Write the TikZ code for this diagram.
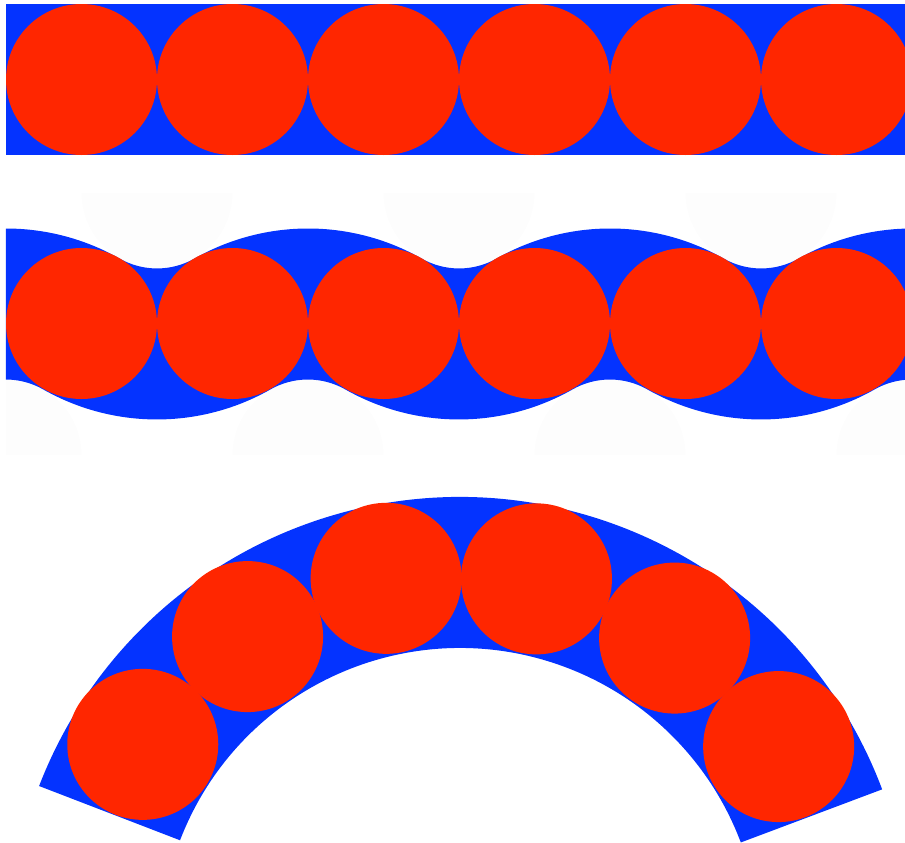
\documentclass[tikz,border=0pt]{standalone}
\usepackage{tikz}
\definecolor{bandblue}{RGB}{4,51,255}
\definecolor{ballred}{RGB}{255,38,0}
\definecolor{ghost}{RGB}{253,253,253}

\begin{document}
\begin{tikzpicture}[x=0.02cm, y=-0.02cm,
      band/.style={fill=bandblue},
      ball/.style={fill=ballred},
      cut/.style={fill=ghost}]
      \useasboundingbox (0,0) rectangle (905,842);
      % straight strip
      \fill[band] (6,4) rectangle (912,155);
      \foreach \i in {0,...,5} \fill[ball] (81.5+151*\i,79.5) circle (75.5);
      % wavy strip
      \begin{scope}
        \clip (6,193) rectangle (912,455);
        \foreach \i in {0,1,2} \fill[cut] (81.5+302*\i,193) arc[start angle=180, end angle=0, radius=75.5] -- cycle;
        \foreach \i in {0,...,3} \fill[cut] (-69.5+302*\i,455) arc[start angle=180, end angle=360, radius=75.5] -- cycle;
      \end{scope}
      \fill[band] (6,228.5)
        \foreach \k in {1,2,3} {
          arc[start angle=-90, end angle=-60.37, radius=230]
          arc[start angle=119.63, end angle=60.37, radius=75.5]
          arc[start angle=-119.63, end angle=-90, radius=230]}
        -- (912,379.5)
        \foreach \k in {1,2,3} {
          arc[start angle=-90, end angle=-119.63, radius=75.5]
          arc[start angle=60.37, end angle=119.63, radius=230]
          arc[start angle=-60.37, end angle=-90, radius=75.5]}
        -- cycle;
      \foreach \i in {0,...,5} \fill[ball] (81.5+151*\i,323.5) circle (75.5);
      % bent strip
      \coordinate (hub) at (460,948);
      \fill[band] ([shift={(-20.6:451)}]hub) arc[start angle=-20.6, end angle=-158.95, radius=451]
        -- ([shift={(-158.95:300)}]hub) arc[start angle=-158.95, end angle=-20.6, radius=300] -- cycle;
      \foreach \a in {-32.3,-55.3,-78.3,-101.3,-124.3,-147.3}
        \fill[ball] ([shift={(\a:377)}]hub) circle (75.5);
    \end{tikzpicture}
\end{document}
